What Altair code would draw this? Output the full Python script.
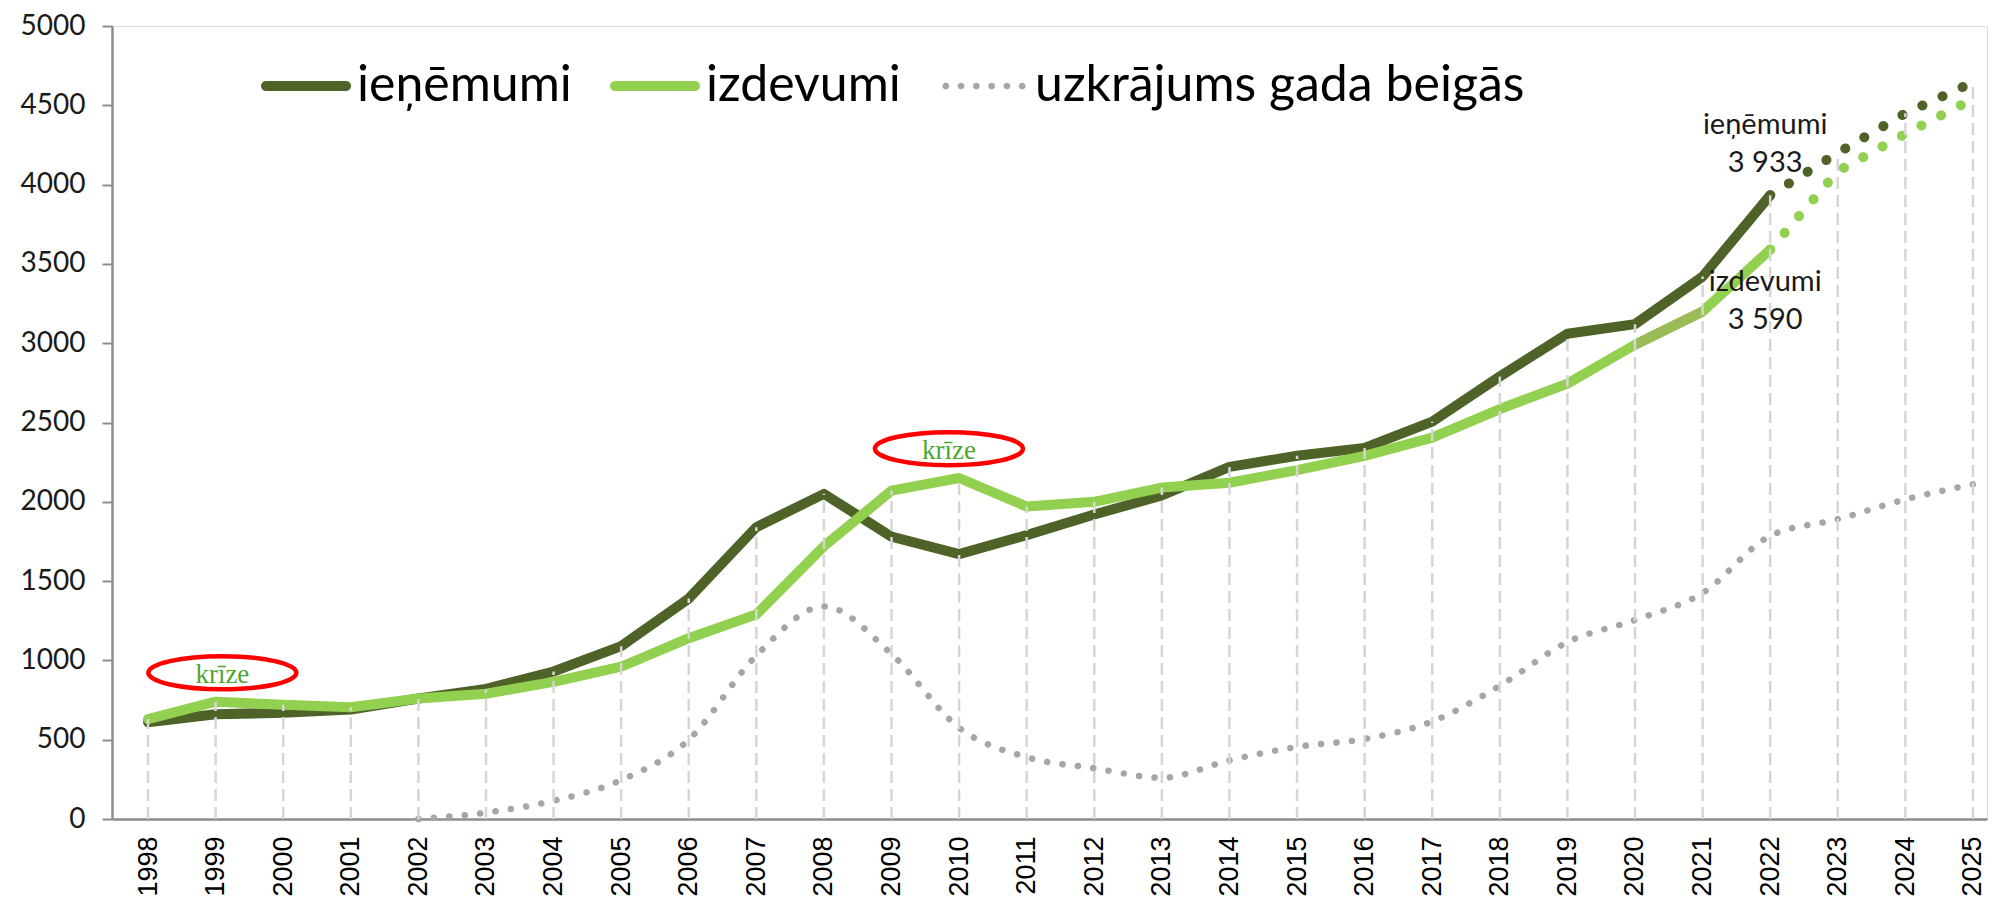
import altair as alt
import pandas as pd

# ---------------- data ----------------
years = list(range(1998, 2023))
ienemumi = [610, 660, 670, 690, 760, 820, 930, 1090, 1390, 1840, 2050, 1780, 1670,
            1790, 1920, 2040, 2220, 2290, 2340, 2505, 2790, 3060, 3120, 3420, 3933]
izdevumi = [630, 740, 720, 705, 760, 790, 865, 960, 1140, 1290, 1720, 2070, 2150,
            1970, 2000, 2090, 2120, 2200, 2290, 2405, 2585, 2745, 2990, 3200, 3590]
uzkr_years = list(range(2002, 2026))
uzkrajums = [0, 40, 115, 245, 500, 1030, 1340, 1040, 575, 390, 320, 260, 370, 455,
             505, 615, 840, 1115, 1255, 1425, 1785, 1890, 2015, 2110]
proj_years = [2022, 2023, 2024, 2025]
ienemumi_proj = [3933, 4200, 4450, 4645]
izdevumi_proj = [3590, 4085, 4320, 4540]

series_names = ["ieņēmumi", "izdevumi", "uzkrājums gada beigās"]
series_colors = ["#4F6228", "#92D050", "#A6A6A6"]

crisis_labels = ["krīze", "krīze"]
crisis_years = [1999.1, 2009.85]
crisis_values = [922, 2335]

note_texts = ["ieņēmumi", "3 933", "izdevumi", "3 590"]
note_values = [4321, 4077, 3327, 3090]
note_year = 2022

year_ticks = list(range(1998, 2026))
value_ticks = list(range(0, 5001, 500))

# ---------------- tables ----------------
df_ien = pd.DataFrame({"year": years, "value": ienemumi})
df_izd = pd.DataFrame({"year": years, "value": izdevumi})
df_izd_seg = pd.DataFrame({"year": years[22:24], "value": izdevumi[22:24]})
df_uzk = pd.DataFrame({"year": uzkr_years, "value": uzkrajums})
df_ien_p = pd.DataFrame({"year": proj_years, "value": ienemumi_proj})
df_izd_p = pd.DataFrame({"year": proj_years, "value": izdevumi_proj})

tops = {}
for ys, vs in [(years, ienemumi), (years, izdevumi), (uzkr_years, uzkrajums),
               (proj_years, ienemumi_proj), (proj_years, izdevumi_proj)]:
    for y, v in zip(ys, vs):
        tops[y] = max(tops.get(y, 0), v)
df_drop = pd.DataFrame({"year": year_ticks,
                        "base": [0] * len(year_ticks),
                        "value": [tops[y] for y in year_ticks]})

df_notes = pd.DataFrame({"year": [note_year] * len(note_texts),
                         "value": note_values, "text": note_texts})
df_crisis = pd.DataFrame({"year": crisis_years, "value": crisis_values,
                          "text": crisis_labels})
df_legend = pd.DataFrame({"series": series_names,
                          "year": [2000] * 3, "value": [-2000] * 3})

# ---------------- shapes (styles) ----------------
k = 0.5523
def ellipse_path(rx, ry, cx=0.0):
    return (f"M{cx-rx},0 C{cx-rx},{-k*ry} {cx-k*rx},{-ry} {cx},{-ry} "
            f"C{cx+k*rx},{-ry} {cx+rx},{-k*ry} {cx+rx},0 "
            f"C{cx+rx},{k*ry} {cx+k*rx},{ry} {cx},{ry} "
            f"C{cx-k*rx},{ry} {cx-rx},{k*ry} {cx-rx},0 Z")

ELLIPSE = ellipse_path(1, 0.223)
h = 0.111
BAR = (f"M{-1+h},{-h} L{1-h},{-h} C{1-h+k*h},{-h} 1,{-k*h} 1,0 "
       f"C1,{k*h} {1-h+k*h},{h} {1-h},{h} L{-1+h},{h} "
       f"C{-1+h-k*h},{h} -1,{k*h} -1,0 C-1,{-k*h} {-1+h-k*h},{-h} {-1+h},{-h} Z")
DOTS = " ".join(ellipse_path(0.075, 0.075, c) for c in [-0.85, -0.51, -0.17, 0.17, 0.51, 0.85])

# ---------------- encodings ----------------
x_scale = alt.Scale(domain=[1997.467, 2025.208], nice=False, zero=False)
y_scale = alt.Scale(domain=[0, 5000], nice=False, zero=False)
x_axis = alt.Axis(values=year_ticks, format="d", labelAngle=-90, labelFont="Liberation Sans",
                  labelFontSize=27, labelColor="#000000", labelPadding=17, ticks=False,
                  tickSize=0, domainColor="#8C8C8C", domainWidth=2.5, grid=False,
                  title=None, labelOverlap=False, labelFlush=False)
y_axis = alt.Axis(values=value_ticks, format="d", labelFont="Lato", labelFontSize=28,
                  labelColor="#1A1A1A", tickSize=10, tickColor="#8C8C8C", tickWidth=2,
                  domainColor="#8C8C8C", domainWidth=2.5, labelPadding=17, grid=False,
                  title=None, labelFlush=False)
X = alt.X("year:Q", scale=x_scale, axis=x_axis)
Y = alt.Y("value:Q", scale=y_scale, axis=y_axis)

# ---------------- layers ----------------
gray = alt.Chart(df_uzk).mark_line(color="#A6A6A6", strokeWidth=6.5, strokeCap="round",
                                   strokeDash=[0.1, 15.4], interpolate="monotone").encode(x=X, y=Y)
dark = alt.Chart(df_ien).mark_line(color="#4F6228", strokeWidth=10, strokeCap="round",
                                   strokeJoin="round").encode(x=X, y=Y)
light = alt.Chart(df_izd).mark_line(color="#92D050", strokeWidth=10, strokeCap="round",
                                    strokeJoin="round").encode(x=X, y=Y)
olive = alt.Chart(df_izd_seg).mark_line(color="#9BBB59", strokeWidth=10).encode(x=X, y=Y)
dark_p = alt.Chart(df_ien_p).mark_line(color="#4F6228", strokeWidth=10, strokeCap="round",
                                       strokeDash=[0.1, 22]).encode(x=X, y=Y)
light_p = alt.Chart(df_izd_p).mark_line(color="#92D050", strokeWidth=10, strokeCap="round",
                                        strokeDash=[0.1, 22]).encode(x=X, y=Y)
drops = alt.Chart(df_drop).mark_rule(color="#D6D6D6", strokeWidth=2.5,
                                     strokeDash=[12, 6]).encode(
    x=X, y=alt.Y("base:Q", scale=y_scale, axis=y_axis), y2="value:Q")
notes = alt.Chart(df_notes).mark_text(font="Lato", fontSize=29, color="#1A1A1A",
                                      align="center", baseline="alphabetic", dx=-5).encode(
    x=X, y=Y, text="text:N")
crisis_txt = alt.Chart(df_crisis).mark_text(font="Liberation Serif", fontSize=27,
                                            color="#4EA62F", align="center",
                                            baseline="middle", dy=2).encode(x=X, y=Y, text="text:N")
crisis_ell = alt.Chart(df_crisis).mark_point(shape=ELLIPSE, size=148 * 148, filled=False,
                                             color="#FF0000", strokeWidth=4.5,
                                             opacity=1).encode(x=X, y=Y)

legend_spec = alt.Legend(title=None, orient="none", legendX=149, legendY=15,
                         direction="horizontal", symbolSize=8100, symbolStrokeWidth=0,
                         labelFont="Lato", labelFontSize=50, labelColor="#000000",
                         labelOffset=6, columnPadding=38, labelLimit=0)
legend_layer = alt.Chart(df_legend).mark_point(filled=True, clip=True, opacity=1).encode(
    x=X, y=Y,
    color=alt.Color("series:N", scale=alt.Scale(domain=series_names, range=series_colors),
                    legend=legend_spec),
    shape=alt.Shape("series:N", scale=alt.Scale(domain=series_names, range=[BAR, BAR, DOTS]),
                    legend=legend_spec),
)

chart = alt.layer(gray, dark, light, olive, dark_p, light_p, drops, notes, crisis_txt,
                  crisis_ell, legend_layer).properties(
    width=1875, height=793,
    autosize=alt.AutoSizeParams(type="none"),
    padding={"left": 104, "top": 18, "right": 2, "bottom": 81},
).configure_view(stroke=None).configure(background="white")

chart.save("out.html", embed_options={"renderer": "svg", "actions": False})
